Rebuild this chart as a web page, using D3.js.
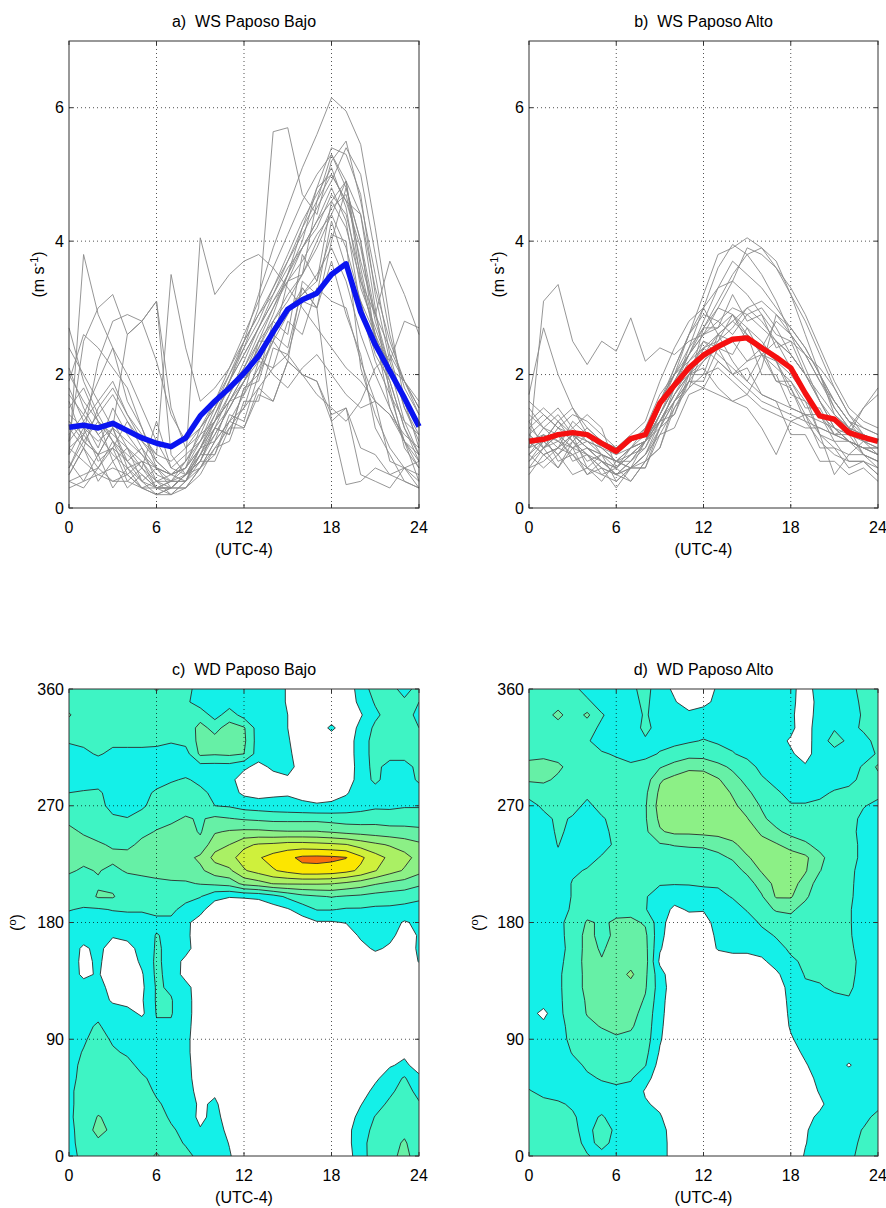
<!DOCTYPE html>
<html>
<head>
<meta charset="utf-8">
<script src="https://cdn.jsdelivr.net/npm/d3@7"></script>
<style>
  body { margin: 0; background: #fff; }
  svg text { font-family: "Liberation Sans", Arial, Helvetica, sans-serif; fill: #000; }
</style>
</head>
<body>
<svg id="fig" width="886" height="1208"></svg>
<script>
// ---------- axes ----------
const hours = [0,1,2,3,4,5,6,7,8,9,10,11,12,13,14,15,16,17,18,19,20,21,22,23,24];
const directions = [360,350,340,330,320,310,300,290,280,270,260,250,240,230,220,210,200,190,180,170,160,150,140,130,120,110,100,90,80,70,60,50,40,30,20,10,0];
const hourTicks = [0,6,12,18,24];
const speedTicks = [0,2,4,6];
const dirTicks = [0,90,180,270,360];
const contourLevels = [1,2,3,4,5,6,7,8];

// ---------- wind speed, Paposo Bajo (m/s), hourly ----------
const wsBajoMean = [1.21,1.24,1.2,1.27,1.16,1.05,0.97,0.92,1.05,1.38,1.6,1.8,2.02,2.28,2.64,2.98,3.12,3.22,3.5,3.66,2.94,2.45,2.05,1.65,1.22];
const wsBajoDays = [
  [0.8,3.8,2.9,2.4,1.6,1.2,0.6,0.4,0.6,1.2,1.6,2.1,2.6,3.1,3.6,4.1,4.6,5.0,5.3,4.9,3.6,2.6,1.9,1.2,0.8],
  [2.7,1.9,1.4,1.0,0.7,0.5,0.3,0.3,0.5,0.9,1.4,1.9,2.5,3.2,3.9,4.5,5.1,5.6,6.15,5.95,5.45,4.2,2.8,1.6,0.9],
  [1.0,2.5,3.0,3.2,2.6,2.8,3.1,1.5,0.9,1.1,1.3,1.6,2.0,2.5,3.0,3.4,3.9,4.3,4.8,4.3,3.0,2.2,1.7,1.3,1.1],
  [0.5,0.9,0.4,0.7,0.3,0.5,0.3,0.3,0.5,0.7,1.2,1.1,1.8,2.0,2.8,2.6,3.8,3.4,4.6,4.9,3.4,2.6,1.5,1.0,0.4],
  [1.6,1.0,1.3,0.7,0.9,0.4,0.6,0.3,0.3,0.6,0.8,1.4,1.3,2.0,2.5,2.2,3.4,3.2,4.3,3.6,3.1,2.3,1.9,1.2,0.7],
  [2.1,1.5,1.1,1.3,0.9,0.6,0.4,0.4,0.7,4.05,3.2,3.5,3.7,3.8,3.6,3.3,3.0,2.7,2.4,2.1,1.9,1.6,1.4,1.1,0.9],
  [1.3,1.1,2.2,2.8,2.9,2.8,3.1,0.8,0.5,0.7,1.1,1.5,1.9,2.3,2.7,3.0,3.2,3.5,3.9,3.4,2.6,2.0,1.5,1.0,0.8],
  [0.4,0.5,0.6,0.9,0.7,0.4,0.2,0.2,0.4,0.8,1.3,1.9,2.4,3.0,5.64,5.7,4.7,4.4,5.2,5.5,4.6,3.5,2.3,1.5,1.0],
  [1.9,2.6,2.4,2.1,1.8,1.2,0.7,0.5,0.6,1.0,1.5,2.0,2.4,2.8,3.3,3.8,4.3,4.7,5.1,4.5,3.3,2.7,2.1,1.6,1.3],
  [0.9,0.7,0.5,0.4,0.4,0.3,0.3,0.2,0.3,0.6,1.0,1.3,1.7,2.1,2.5,2.9,3.3,3.0,1.3,0.35,0.4,0.6,0.5,0.4,0.3],
  [1.2,0.9,1.5,1.8,1.4,1.0,0.8,3.5,2.4,1.6,1.8,2.1,2.5,2.9,3.3,3.7,4.1,4.5,4.9,5.4,5.0,3.8,2.6,1.8,1.4],
  [0.6,1.1,0.8,1.2,0.6,0.7,0.4,0.3,0.5,0.7,1.2,1.1,1.8,1.9,2.6,2.4,3.3,3.0,4.0,4.8,4.0,2.9,2.1,1.3,0.8],
  [2.0,1.6,1.3,1.1,0.9,0.7,0.6,0.5,0.7,1.1,1.6,2.0,2.5,2.9,3.2,3.6,3.9,4.3,4.6,4.2,3.4,2.9,2.4,1.9,1.5],
  [0.3,0.4,0.5,0.6,0.5,0.3,0.2,0.3,0.5,0.6,0.9,1.2,1.5,1.8,2.1,2.3,2.0,1.7,1.5,1.3,1.6,2.1,2.3,1.9,1.6],
  [1.5,1.8,1.3,1.0,0.8,0.6,1.3,0.6,0.5,0.8,1.2,1.7,2.1,2.6,3.0,3.5,4.0,4.8,5.4,5.3,4.7,3.2,2.2,1.5,1.1],
  [0.7,0.4,0.8,0.3,0.6,0.3,0.4,0.2,0.4,0.6,1.0,1.3,1.5,2.2,2.1,2.8,2.6,3.3,3.1,3.0,2.2,1.6,0.7,0.6,0.4],
  [1.1,1.4,1.9,2.4,2.0,1.5,1.0,0.6,0.8,1.0,1.4,1.8,2.1,2.5,2.8,3.2,3.5,3.9,4.4,4.9,4.4,3.3,2.5,1.9,1.5],
  [1.8,1.3,0.9,1.5,1.1,0.8,0.5,0.4,0.5,0.8,1.1,1.5,1.9,2.4,2.9,3.5,4.2,4.8,5.0,4.6,3.9,2.8,2.1,1.6,1.2],
  [0.5,0.9,0.6,1.0,0.5,0.7,0.3,0.4,0.4,0.8,0.8,1.3,1.2,1.8,1.6,2.2,2.0,1.9,1.4,1.5,0.9,0.8,0.5,0.6,0.3],
  [1.3,1.0,0.8,0.9,1.3,0.9,0.6,0.5,0.7,1.0,1.3,1.6,2.0,2.4,2.8,3.1,3.5,4.0,4.5,4.7,3.7,2.9,3.7,3.2,2.6],
  [2.4,2.0,1.6,1.9,1.4,1.1,0.8,0.7,0.9,1.2,1.5,1.9,2.3,2.7,3.1,3.4,3.7,4.1,4.4,3.9,3.1,2.6,2.1,1.9,1.4],
  [0.8,1.2,0.7,0.9,0.4,0.6,0.3,0.4,0.4,0.9,1.0,1.6,1.7,2.5,2.5,3.4,3.5,4.6,5.3,4.8,4.0,2.5,1.8,0.9,0.6],
  [1.7,1.4,1.1,0.8,0.6,0.4,0.3,0.3,0.5,0.9,1.2,1.5,1.9,2.3,2.0,1.8,2.1,2.3,2.0,1.7,1.5,1.6,1.4,1.0,0.7],
  [0.9,1.1,1.4,1.7,1.3,1.0,0.7,0.5,0.6,0.9,1.3,1.6,1.9,2.2,2.6,3.0,3.2,3.4,4.1,4.0,2.1,1.4,0.9,0.6,0.5],
  [0.4,0.3,0.6,0.4,0.5,0.3,0.2,0.3,0.3,0.5,0.9,1.0,1.6,1.6,2.4,2.3,3.1,3.0,3.7,2.9,2.3,1.2,0.8,0.4,0.3],
  [1.4,1.2,1.0,1.2,2.6,2.8,2.2,1.4,1.0,1.2,1.5,1.9,2.3,2.7,3.1,3.5,3.9,4.2,4.7,4.4,3.5,2.5,2.2,2.8,2.7],
  [0.6,1.0,0.8,1.2,0.7,0.9,0.4,0.5,0.4,0.7,0.7,1.2,1.2,1.7,1.6,2.2,2.0,1.9,1.3,1.5,0.5,0.4,0.3,0.6,0.7],
  [1.0,1.3,1.6,1.2,1.0,0.8,0.6,0.5,0.6,0.9,1.3,1.7,2.2,2.7,3.2,3.7,4.2,4.6,5.0,4.6,4.4,3.0,1.7,1.0,0.6]
];

// ---------- wind speed, Paposo Alto (m/s), hourly ----------
const wsAltoMean = [1.0,1.03,1.1,1.13,1.1,0.97,0.85,1.04,1.1,1.57,1.84,2.1,2.29,2.42,2.53,2.55,2.4,2.26,2.1,1.72,1.38,1.33,1.13,1.06,1.0];
const wsAltoDays = [
  [0.9,3.1,3.35,2.5,2.15,2.5,2.35,2.85,2.2,2.4,2.3,2.5,2.6,2.7,2.9,2.6,2.3,2.1,1.9,1.6,1.4,1.2,1.0,0.9,0.8],
  [1.7,2.7,2.0,1.5,1.1,0.9,0.7,0.9,1.0,1.4,1.8,2.4,3.0,3.6,3.95,3.8,3.5,3.1,2.6,2.1,1.6,1.2,1.0,0.9,0.8],
  [1.0,0.8,0.9,1.1,0.9,0.7,0.6,0.8,1.0,1.5,2.0,2.6,3.2,3.8,3.9,4.05,3.9,3.7,3.2,2.6,2.0,1.5,1.2,1.1,1.0],
  [1.2,1.0,1.3,1.5,1.2,1.0,0.8,0.9,1.1,1.6,2.0,2.3,2.6,2.8,3.0,2.9,2.7,2.5,2.3,2.0,1.7,1.4,1.2,1.1,1.0],
  [0.6,0.9,0.6,0.9,0.5,0.6,0.3,0.6,0.6,1.2,1.4,2.0,2.0,2.6,2.5,2.6,2.0,2.0,1.5,1.4,0.9,0.9,0.6,0.7,0.5],
  [0.9,1.1,1.0,0.8,0.6,0.5,0.4,0.6,0.8,1.3,1.7,2.0,2.2,2.4,2.0,1.8,1.6,1.5,1.4,1.3,1.2,1.1,1.0,0.9,0.9],
  [1.4,1.2,1.0,0.9,0.8,0.7,0.6,0.8,1.0,1.5,1.9,2.3,2.8,3.3,3.7,3.5,3.3,3.0,2.7,2.4,2.0,1.6,1.3,1.1,1.0],
  [0.8,1.1,0.7,0.8,0.5,0.7,0.5,0.4,0.7,0.9,1.6,1.9,2.7,2.7,3.2,2.8,2.9,2.4,2.5,2.0,2.0,1.4,1.2,0.8,0.6],
  [1.1,1.3,1.5,1.2,1.0,0.9,0.8,1.0,1.2,1.7,2.0,2.2,2.4,2.2,2.0,2.2,2.4,2.8,2.6,2.3,1.9,1.6,1.3,1.2,1.1],
  [0.7,0.9,1.2,1.0,0.8,0.6,0.5,0.7,0.9,1.4,1.8,2.3,2.7,3.0,2.9,2.7,2.5,2.2,1.8,1.3,1.0,0.8,0.7,0.7,0.6],
  [1.0,0.8,0.9,1.3,1.1,0.8,0.7,0.7,1.0,1.6,2.1,2.6,2.9,2.8,2.6,2.9,3.0,2.7,2.3,2.0,1.6,1.2,1.0,0.9,0.8],
  [1.3,1.5,1.3,1.0,1.2,1.0,0.9,1.1,1.3,1.9,2.4,2.8,3.0,2.6,2.2,1.9,1.7,1.6,1.5,1.4,1.3,1.2,1.1,1.0,1.0],
  [0.5,0.8,0.6,1.0,0.7,0.8,0.6,0.8,0.9,1.3,1.4,1.9,1.9,2.4,2.3,2.7,2.3,2.2,1.7,1.6,1.1,1.0,0.7,0.7,0.5],
  [1.5,1.2,1.4,1.1,0.9,0.8,0.7,0.8,1.0,1.4,1.9,2.3,2.6,3.0,3.4,3.9,3.8,3.6,3.3,2.9,2.4,1.9,1.5,1.3,1.2],
  [0.9,1.0,0.8,1.0,0.8,0.6,0.5,0.6,0.8,1.2,1.6,2.0,2.1,1.8,1.6,1.5,1.2,0.8,1.3,1.4,1.1,0.9,0.8,0.8,0.7],
  [1.1,0.9,1.1,0.9,1.0,0.9,0.7,0.9,1.0,1.3,1.7,2.0,2.3,2.6,2.8,2.6,2.4,2.2,2.0,1.7,1.4,1.1,1.2,1.5,1.7],
  [0.8,0.6,0.8,0.5,0.6,0.4,0.7,0.6,1.0,1.2,1.8,2.0,2.5,2.4,2.5,2.2,2.3,1.9,1.9,1.5,1.5,1.1,1.1,0.8,0.7],
  [1.2,1.4,1.2,1.4,1.3,1.1,0.9,1.0,1.1,1.5,2.1,2.6,3.0,3.3,3.4,3.2,2.9,2.6,2.5,2.3,2.1,1.8,1.4,1.2,1.1],
  [0.7,1.0,0.8,1.1,0.6,0.8,0.4,0.6,0.6,1.1,1.2,1.7,1.8,2.2,2.0,2.1,1.7,1.6,1.1,1.1,0.7,0.7,0.5,0.6,0.4],
  [1.0,1.1,0.9,0.8,0.9,0.8,0.7,0.6,0.8,1.1,1.5,1.9,2.2,2.5,2.7,3.0,2.8,2.5,2.1,1.7,1.1,0.5,0.8,1.0,0.9],
  [0.6,0.7,0.9,1.1,0.9,0.7,0.5,0.6,0.7,1.2,1.6,1.9,1.8,1.7,1.6,1.7,2.1,2.9,2.7,2.4,2.0,1.6,1.3,1.0,0.8],
  [1.3,0.9,1.1,0.7,0.8,0.5,0.6,0.4,0.7,0.9,1.5,1.8,2.4,2.5,2.9,2.5,2.4,1.9,1.8,1.4,1.4,1.0,1.0,0.8,0.7],
  [0.9,1.2,1.1,0.9,1.1,1.0,0.9,1.0,1.1,1.3,1.6,1.8,2.0,2.1,1.9,1.7,1.5,1.4,1.3,1.2,1.2,1.1,1.0,0.9,0.9],
  [1.1,0.9,1.0,1.2,1.4,1.2,0.6,0.9,1.2,1.6,2.0,2.4,2.7,3.1,3.5,3.8,3.9,3.6,3.2,2.8,2.3,1.8,1.4,1.1,1.0],
  [0.8,1.0,1.3,1.1,0.9,0.7,0.5,0.7,1.0,1.4,1.8,2.2,2.5,2.3,2.1,1.9,2.3,2.5,2.3,2.0,1.6,1.3,1.1,1.5,1.8],
  [1.6,1.4,1.2,1.1,1.0,0.8,0.7,0.9,1.0,1.3,1.7,2.1,2.4,2.6,2.8,3.0,3.1,2.9,2.6,2.3,1.9,1.5,1.2,1.0,0.9]
];

// ---------- wind direction frequency, Paposo Bajo (rows: 360 down to 0 deg, cols: 0..24 h) ----------
const wdBajoFreq = [
  [2.4,2.4,2.4,2.4,2.4,2.4,3.1,2.4,2.4,1.5,1.5,1.5,1.5,1.5,1.5,0.9,0.3,0.3,0.3,0.3,1.5,2.4,2.4,1.6,2.4],
  [2.5,2.4,2.4,2.4,2.4,2.4,2.4,2.4,2.2,1.5,1.5,1.5,1.5,1.5,1.5,0.9,0.3,0.3,0.3,0.3,1.3,2.1,2.4,2.2,2.0],
  [3.1,2.4,2.4,2.4,2.4,2.4,2.4,2.4,2.3,2.6,1.6,2.5,1.6,1.5,1.5,1.0,0.3,0.3,0.3,0.3,0.9,1.8,2.4,2.3,1.8],
  [2.5,2.4,2.4,2.4,2.4,2.4,2.4,2.4,2.4,3.3,2.7,3.4,3.1,1.5,1.5,1.0,0.3,0.3,1.25,0.3,1.3,2.2,2.4,2.4,2.0],
  [2.1,2.2,2.0,2.2,2.3,2.3,2.3,2.1,2.3,3.3,3.3,3.4,3.2,1.5,1.5,1.1,0.4,0.3,0.3,0.3,1.6,2.3,2.4,2.3,2.2],
  [1.6,1.8,2.1,1.8,1.7,1.7,1.6,1.5,1.6,3.2,3.1,3.2,3.0,1.5,1.5,1.2,0.5,0.3,0.3,0.3,1.6,2.3,2.4,2.4,2.2],
  [1.5,1.5,1.5,1.5,1.5,1.5,1.5,1.5,1.5,1.6,1.6,1.6,1.2,0.7,1.2,1.4,0.5,0.3,0.3,0.3,1.5,2.3,1.6,1.6,2.3],
  [1.5,1.5,1.5,1.5,1.5,1.5,1.5,1.9,2.1,1.8,1.5,1.3,0.5,0.4,0.6,0.8,0.4,0.3,0.3,0.4,1.5,2.2,1.6,1.7,2.1],
  [2.0,2.1,2.2,1.5,1.3,1.6,2.2,2.4,2.5,2.2,1.8,1.4,0.8,0.6,0.8,0.9,0.7,0.6,0.6,0.9,1.5,1.6,1.6,1.6,1.7],
  [2.4,2.5,2.4,1.6,1.5,1.8,2.5,2.5,2.6,2.3,2.0,1.9,1.6,1.5,1.4,1.3,1.2,1.1,1.2,1.4,1.6,1.8,1.8,1.9,1.9],
  [2.8,2.7,2.6,2.2,2.05,2.5,2.7,2.8,3.1,2.9,3.2,3.05,2.9,2.8,2.7,2.7,2.7,2.7,2.6,2.5,2.5,2.6,2.5,2.6,2.6],
  [3.2,2.9,2.7,2.6,2.5,2.8,3.05,3.3,3.4,2.9,3.9,4.1,4.2,4.2,4.1,4.05,4.05,4.05,3.9,3.7,3.6,3.5,3.4,3.3,3.2],
  [3.4,3.3,3.1,2.9,2.8,3.2,3.3,3.5,3.6,3.3,4.6,5.0,5.8,6.1,6.2,6.4,6.4,6.3,6.2,6.05,5.6,5.2,4.9,4.6,4.2],
  [3.3,3.2,3.2,3.2,3.3,3.4,3.5,3.6,3.7,4.2,5.3,5.7,6.4,6.9,7.4,7.8,8.2,8.25,8.2,8.05,7.2,6.4,5.8,5.3,4.7],
  [3.1,2.9,3.05,2.8,3.1,3.2,3.3,3.3,3.4,3.8,4.5,4.8,5.9,6.4,6.9,7.3,7.7,7.7,7.6,7.3,6.8,6.05,5.4,4.9,4.3],
  [2.7,2.6,2.9,2.7,2.6,2.7,2.8,2.9,2.9,3.05,3.2,3.4,4.3,4.6,5.05,5.1,5.1,5.1,5.05,4.8,4.5,4.1,3.8,3.6,3.2],
  [2.4,2.5,3.1,3.1,2.4,2.5,2.6,2.6,2.3,2.05,1.3,1.05,1.1,1.2,1.6,2.2,2.7,2.9,3.05,2.9,2.8,2.6,2.5,2.4,2.2],
  [2.05,1.9,1.9,2.05,2.1,2.1,2.2,2.2,1.7,1.3,0.4,0.3,0.3,0.3,0.6,0.9,1.5,2.05,2.05,1.9,1.9,1.8,1.8,1.7,1.6],
  [1.6,1.5,1.4,1.5,1.6,1.6,1.8,1.8,1.2,0.6,0.3,0.3,0.3,0.3,0.3,0.5,0.5,0.9,0.9,1.05,1.3,1.5,1.4,0.9,1.2],
  [1.6,1.5,1.2,1.1,1.3,1.5,2.05,1.8,1.3,0.3,0.3,0.3,0.3,0.3,0.3,0.3,0.3,0.3,0.3,0.3,1.2,1.4,1.3,0.5,1.1],
  [1.6,0.8,1.3,0.5,0.6,1.4,2.1,1.8,1.4,0.3,0.3,0.3,0.3,0.3,0.3,0.3,0.3,0.3,0.3,0.3,0.6,1.2,0.8,0.3,1.2],
  [1.6,0.7,1.2,0.4,0.4,1.2,2.2,1.6,0.7,0.3,0.3,0.3,0.3,0.3,0.3,0.3,0.3,0.3,0.3,0.3,0.3,0.3,0.3,0.3,1.05],
  [1.5,0.8,1.1,0.4,0.3,0.9,2.2,1.7,0.6,0.3,0.3,0.3,0.3,0.3,0.3,0.3,0.3,0.3,0.3,0.3,0.3,0.3,0.3,0.3,0.5],
  [1.3,1.4,1.5,0.5,0.4,0.8,2.1,1.9,1.4,0.3,0.3,0.3,0.3,0.3,0.3,0.3,0.3,0.3,0.3,0.3,0.3,0.3,0.3,0.3,0.3],
  [1.5,1.6,1.7,0.8,0.6,0.9,2.1,2.05,1.5,0.3,0.3,0.3,0.3,0.3,0.3,0.3,0.3,0.3,0.3,0.3,0.3,0.3,0.3,0.3,0.3],
  [1.6,1.8,1.9,1.7,1.4,0.8,2.05,2.05,1.5,0.3,0.3,0.3,0.3,0.3,0.3,0.3,0.3,0.3,0.3,0.3,0.3,0.3,0.3,0.3,0.3],
  [1.6,1.9,2.05,1.8,1.6,1.6,1.9,1.9,1.4,0.3,0.3,0.3,0.3,0.3,0.3,0.3,0.3,0.3,0.3,0.3,0.3,0.3,0.3,0.3,0.3],
  [1.7,1.9,2.3,1.9,1.7,1.7,1.8,1.8,1.3,0.3,0.3,0.3,0.3,0.3,0.3,0.3,0.3,0.3,0.3,0.3,0.3,0.3,0.3,0.3,0.3],
  [1.7,2.05,2.5,2.1,1.9,1.7,1.7,1.7,1.3,0.3,0.3,0.3,0.3,0.3,0.3,0.3,0.3,0.3,0.3,0.3,0.3,0.3,0.5,0.8,0.3],
  [1.7,2.2,2.6,2.4,2.2,1.8,1.7,1.7,1.4,0.3,0.3,0.3,0.3,0.3,0.3,0.3,0.3,0.3,0.3,0.3,0.3,0.3,0.9,1.2,0.6],
  [1.7,2.3,2.6,2.6,2.5,2.1,1.8,1.7,1.5,0.3,0.3,0.3,0.3,0.3,0.3,0.3,0.3,0.3,0.3,0.3,0.3,0.8,1.5,2.1,1.2],
  [1.8,2.4,2.7,2.7,2.6,2.3,1.9,1.7,1.6,0.5,0.8,0.3,0.3,0.3,0.3,0.3,0.3,0.3,0.3,0.3,0.5,1.3,1.8,2.4,1.7],
  [1.8,2.4,2.7,2.8,2.8,2.4,2.1,1.8,1.6,0.8,1.2,0.3,0.3,0.3,0.3,0.3,0.3,0.3,0.3,0.3,0.95,1.6,2.2,2.5,2.1],
  [1.8,2.5,3.05,2.8,2.8,2.7,2.3,1.9,1.7,0.7,1.4,0.4,0.3,0.3,0.3,0.3,0.3,0.3,0.3,0.5,1.3,2.05,2.5,2.6,2.3],
  [1.7,2.5,3.3,2.8,2.8,2.7,2.6,2.1,1.8,1.1,1.5,0.7,0.3,0.3,0.3,0.3,0.3,0.3,0.3,0.7,1.5,2.3,2.6,2.8,2.4],
  [1.7,2.4,2.8,2.7,2.7,2.7,2.7,2.4,1.9,1.6,1.6,0.95,0.3,0.3,0.3,0.3,0.3,0.3,0.3,0.6,1.7,2.4,2.7,3.1,2.5],
  [1.6,2.3,2.6,2.6,2.6,2.6,3.1,2.6,2.3,1.7,1.6,1.1,0.3,0.3,0.3,0.3,0.3,0.3,0.3,0.5,1.6,2.5,2.7,3.3,2.5]
];

// ---------- wind direction frequency, Paposo Alto (rows: 360 down to 0 deg, cols: 0..24 h) ----------
const wdAltoFreq = [
  [2.4,2.4,2.4,2.3,1.6,1.5,1.5,1.8,2.3,1.5,0.8,0.3,0.3,1.2,1.5,1.5,1.5,1.5,1.3,0.5,1.5,1.6,1.8,2.2,2.4],
  [2.4,2.4,2.5,2.4,2.2,1.5,1.5,1.7,2.2,1.5,1.1,0.4,0.7,1.3,1.5,1.5,1.5,1.5,1.3,0.4,1.4,1.6,1.8,2.1,2.3],
  [2.4,2.5,3.3,2.4,3.2,2.1,1.5,1.6,2.1,1.6,1.4,1.3,1.5,1.6,1.6,1.6,1.5,1.4,1.2,0.4,1.5,1.7,1.8,2.05,2.2],
  [2.4,2.4,2.5,2.4,2.4,1.8,1.5,1.6,2.2,1.7,1.6,1.6,1.7,1.7,1.7,1.6,1.5,1.4,1.2,0.5,1.6,1.9,1.9,2.05,2.2],
  [2.3,2.3,2.4,2.3,2.1,1.6,1.6,1.7,1.9,1.8,1.8,1.9,2.05,1.9,1.8,1.6,1.5,1.3,0.9,0.6,1.5,2.4,1.8,1.9,2.1],
  [2.6,2.7,2.6,2.3,2.2,2.1,1.9,1.6,1.8,2.05,2.3,2.6,2.6,2.3,2.05,1.8,1.5,1.3,1.1,0.7,1.4,1.6,1.7,1.8,2.05],
  [3.4,3.5,3.2,2.6,2.4,2.3,2.3,2.2,2.3,2.9,3.4,3.8,3.7,3.3,2.8,2.3,1.8,1.6,1.4,1.1,1.5,1.7,1.8,2.05,3.2],
  [3.1,3.2,2.8,2.5,2.4,2.4,2.4,2.3,2.5,3.9,4.3,4.5,4.6,4.1,3.4,2.7,2.1,1.8,1.6,1.6,1.7,1.8,1.9,2.1,2.6],
  [2.4,2.4,2.3,2.3,2.2,2.3,2.4,2.5,2.8,4.2,4.5,4.6,4.6,4.5,3.9,3.2,2.5,2.1,1.8,1.8,1.9,2.05,2.1,2.1,2.2],
  [1.6,2.2,2.2,2.3,1.8,2.3,2.4,2.5,2.9,4.4,4.6,4.7,4.7,4.6,4.2,3.6,2.9,2.4,2.05,2.05,2.1,2.2,2.2,2.05,1.8],
  [1.5,1.7,2.2,1.9,1.6,1.9,2.3,2.5,2.9,4.2,4.5,4.6,4.6,4.6,4.4,4.05,3.2,2.6,2.2,2.1,2.2,2.3,2.3,1.8,1.5],
  [1.4,1.4,2.2,1.7,1.5,1.8,2.2,2.4,2.8,3.9,4.2,4.2,4.3,4.4,4.5,4.3,3.9,3.2,2.7,2.4,2.3,2.4,2.3,1.7,1.4],
  [1.5,1.3,2.05,1.4,1.5,1.8,2.1,2.3,2.6,2.9,3.05,3.1,3.1,3.3,3.8,4.4,4.2,4.1,3.6,3.2,2.6,2.3,2.3,1.8,1.4],
  [1.6,1.3,1.8,1.7,1.8,2.05,2.2,2.3,2.4,2.4,2.5,2.6,2.7,2.8,3.1,3.9,4.4,4.5,4.5,4.2,3.3,2.4,2.3,1.8,1.3],
  [1.5,1.3,1.7,1.9,2.05,2.2,2.3,2.3,2.3,2.2,2.3,2.3,2.4,2.4,2.6,3.2,4.1,4.4,4.5,4.1,3.05,2.3,2.2,1.7,1.3],
  [1.4,1.3,1.6,2.05,2.3,2.4,2.4,2.4,2.1,2.05,2.05,2.05,2.1,2.1,2.3,2.6,3.4,4.3,4.4,3.6,2.5,2.2,2.2,1.6,1.3],
  [1.4,1.4,1.6,2.05,2.4,2.5,2.5,2.5,2.05,1.7,1.4,1.6,1.7,1.8,2.05,2.3,2.9,4.1,4.1,3.2,2.3,2.2,2.2,1.5,1.3],
  [1.5,1.4,1.7,2.1,2.6,2.9,2.8,2.7,2.05,1.5,0.8,1.1,1.05,1.5,1.7,2.05,2.6,3.1,3.2,2.6,2.2,2.2,2.1,1.5,1.3],
  [1.5,1.5,1.8,2.3,3.1,2.9,3.1,3.2,2.9,1.4,0.4,0.6,0.7,1.3,1.4,1.7,2.1,2.4,2.6,2.3,2.1,2.2,2.1,1.5,1.4],
  [1.5,1.4,1.7,2.4,3.3,2.7,3.2,3.4,3.2,1.3,0.3,0.3,0.5,1.2,1.5,1.6,1.8,2.05,2.2,2.2,2.2,2.2,2.1,1.6,1.4],
  [1.5,1.4,1.6,2.4,3.3,2.9,3.3,3.5,3.3,1.1,0.3,0.3,0.3,1.1,1.3,1.3,1.4,1.8,2.1,2.2,2.2,2.1,2.2,1.6,1.4],
  [1.6,1.4,1.7,2.5,3.3,3.05,3.4,3.6,3.4,0.8,0.3,0.3,0.3,0.4,0.5,0.5,0.8,1.4,1.9,2.1,2.1,2.3,2.3,1.7,1.4],
  [1.6,1.3,1.8,2.6,3.2,3.3,3.5,4.2,3.2,1.4,0.3,0.3,0.3,0.3,0.3,0.3,0.3,0.8,1.6,2.05,2.2,2.4,2.3,1.6,1.3],
  [1.5,1.4,1.8,2.6,3.2,3.4,3.5,3.6,3.1,1.5,0.4,0.3,0.3,0.3,0.3,0.3,0.3,0.4,1.4,1.9,1.9,2.2,2.2,1.5,1.3],
  [1.5,1.5,1.8,2.5,3.1,3.4,3.5,3.5,2.9,1.4,0.3,0.3,0.3,0.3,0.3,0.3,0.3,0.3,1.3,1.7,1.6,1.7,1.9,1.8,1.3],
  [1.4,0.7,1.8,2.4,3.05,3.3,3.4,3.3,2.7,1.3,0.3,0.3,0.3,0.3,0.3,0.3,0.3,0.3,1.2,1.6,1.5,1.5,1.5,1.5,1.4],
  [1.5,1.3,1.7,2.3,2.8,3.05,3.2,3.1,2.6,1.2,0.3,0.3,0.3,0.3,0.3,0.3,0.3,0.3,1.1,1.5,1.5,1.5,1.5,1.5,1.5],
  [1.5,1.4,1.7,2.2,2.5,2.7,2.9,2.8,2.5,1.1,0.3,0.3,0.3,0.3,0.3,0.3,0.3,0.3,0.9,1.4,1.5,1.5,1.5,1.5,1.5],
  [1.5,1.5,1.6,2.05,2.3,2.4,2.6,2.5,2.3,0.9,0.3,0.3,0.3,0.3,0.3,0.3,0.3,0.3,0.6,1.2,1.5,1.5,1.5,1.5,1.5],
  [1.6,1.5,1.6,1.8,2.1,2.2,2.3,2.3,2.05,0.6,0.3,0.3,0.3,0.3,0.3,0.3,0.3,0.3,0.4,0.9,1.5,1.5,0.9,1.5,1.5],
  [1.7,1.6,1.6,1.7,1.9,2.05,2.1,2.1,1.4,0.4,0.3,0.3,0.3,0.3,0.3,0.3,0.3,0.3,0.3,0.6,1.3,1.5,1.6,1.6,1.6],
  [2.05,1.8,1.7,1.6,1.7,1.8,1.9,1.7,0.9,0.5,0.3,0.3,0.3,0.3,0.3,0.3,0.3,0.3,0.3,0.4,1.1,1.5,1.6,1.6,1.7],
  [2.2,2.2,2.1,1.9,1.6,1.6,1.7,1.4,1.1,0.8,0.3,0.3,0.3,0.3,0.3,0.3,0.3,0.3,0.3,0.4,0.8,1.5,1.6,1.7,1.8],
  [2.4,2.4,2.3,2.1,1.7,2.1,1.6,1.5,1.5,1.1,0.4,0.3,0.3,0.3,0.3,0.3,0.3,0.3,0.3,0.7,1.2,1.5,1.6,1.8,2.2],
  [2.5,2.5,2.4,2.2,1.7,2.5,1.8,1.6,1.6,1.4,0.5,0.3,0.3,0.3,0.3,0.3,0.3,0.3,0.3,0.9,1.4,1.5,1.7,2.05,2.4],
  [2.6,2.5,2.4,2.3,1.8,2.2,1.8,1.6,1.6,1.5,0.5,0.3,0.3,0.3,0.3,0.3,0.3,0.3,0.3,0.95,1.5,1.6,1.7,2.2,2.5],
  [2.6,2.5,2.4,2.3,2.05,1.8,1.7,1.6,1.6,1.5,0.5,0.3,0.3,0.3,0.3,0.3,0.3,0.3,0.3,1.1,1.6,1.6,1.8,2.3,2.5]
];

// ---------- styling ----------
const bandColors = ['#14f0e8','#3ef4c4','#66f0a6','#8cf086','#aaf064','#cff03c','#fce600','#f86e0c'];
const boxes = {
  a: {x0: 69, x1: 419, y0: 41, y1: 508},
  b: {x0: 529, x1: 878, y0: 41, y1: 508},
  c: {x0: 69, x1: 419, y0: 689, y1: 1156},
  d: {x0: 529, x1: 878, y0: 689, y1: 1156}
};
const FS = 16;
const svg = d3.select('#fig');

function drawGrid(g, box, x, y, yTicks, yMax) {
  const grid = g.append('g').attr('stroke', '#000').attr('stroke-width', 0.8)
    .attr('stroke-dasharray', '1,3').attr('opacity', 0.85);
  hourTicks.filter(t => t > 0 && t < 24).forEach(t => {
    grid.append('line').attr('x1', x(t)).attr('x2', x(t)).attr('y1', box.y0).attr('y2', box.y1);
  });
  yTicks.filter(t => t > 0 && t < yMax).forEach(t => {
    grid.append('line').attr('x1', box.x0).attr('x2', box.x1).attr('y1', y(t)).attr('y2', y(t));
  });
}

function drawFrame(g, box, x, y, yTicks, title) {
  g.append('rect').attr('x', box.x0).attr('y', box.y0)
    .attr('width', box.x1 - box.x0).attr('height', box.y1 - box.y0)
    .attr('fill', 'none').attr('stroke', '#333').attr('stroke-width', 1);
  const tk = g.append('g').attr('stroke', '#333').attr('stroke-width', 1);
  hourTicks.forEach(t => {
    tk.append('line').attr('x1', x(t)).attr('x2', x(t)).attr('y1', box.y1).attr('y2', box.y1 - 4);
    tk.append('line').attr('x1', x(t)).attr('x2', x(t)).attr('y1', box.y0).attr('y2', box.y0 + 4);
  });
  yTicks.forEach(t => {
    tk.append('line').attr('x1', box.x0).attr('x2', box.x0 + 4).attr('y1', y(t)).attr('y2', y(t));
    tk.append('line').attr('x1', box.x1).attr('x2', box.x1 - 4).attr('y1', y(t)).attr('y2', y(t));
  });
  hourTicks.forEach(t => {
    g.append('text').attr('x', x(t)).attr('y', box.y1 + 25)
      .attr('text-anchor', 'middle').attr('font-size', FS).text(t);
  });
  yTicks.forEach(t => {
    g.append('text').attr('x', box.x0 - 5).attr('y', y(t)).attr('dy', '0.35em')
      .attr('text-anchor', 'end').attr('font-size', FS).text(t);
  });
  g.append('text').attr('x', (box.x0 + box.x1) / 2).attr('y', box.y1 + 47)
    .attr('text-anchor', 'middle').attr('font-size', FS).text('(UTC-4)');
  g.append('text').attr('x', (box.x0 + box.x1) / 2).attr('y', box.y0 - 14)
    .attr('text-anchor', 'middle').attr('font-size', FS).attr('xml:space', 'preserve').text(title);
}

function speedPanel(box, days, mean, color, title, labelX) {
  const g = svg.append('g');
  const x = d3.scaleLinear([0, 24], [box.x0, box.x1]);
  const y = d3.scaleLinear([0, 7], [box.y1, box.y0]);
  drawGrid(g, box, x, y, speedTicks, 7);
  const line = d3.line().x((d, i) => x(hours[i])).y(d => y(d));
  g.append('g').selectAll('path').data(days).join('path')
    .attr('d', line).attr('fill', 'none').attr('stroke', '#8a8a8a').attr('stroke-width', 0.9);
  g.append('path').attr('d', line(mean)).attr('fill', 'none')
    .attr('stroke', color).attr('stroke-width', 5.5).attr('stroke-linejoin', 'round');
  drawFrame(g, box, x, y, speedTicks, title);
  const lab = g.append('text').attr('transform', `translate(${labelX},${(box.y0 + box.y1) / 2}) rotate(-90)`)
    .attr('text-anchor', 'middle').attr('font-size', FS);
  lab.append('tspan').text('(m s');
  lab.append('tspan').attr('dy', -6).attr('font-size', 11).text('-1');
  lab.append('tspan').attr('dy', 6).text(')');
}

function directionPanel(box, freq, title, labelX, id) {
  const g = svg.append('g');
  const x = d3.scaleLinear([0, 24], [box.x0, box.x1]);
  const y = d3.scaleLinear([0, 360], [box.y1, box.y0]);
  const nx = hours.length, ny = directions.length;
  const hourAt = d3.scaleLinear([0.5, nx - 0.5], [hours[0], hours[nx - 1]]);
  const dirAt = d3.scaleLinear([0.5, ny - 0.5], [directions[0], directions[ny - 1]]);
  const proj = d3.geoTransform({
    point(px, py) { this.stream.point(x(hourAt(px)), y(dirAt(py))); }
  });
  const path = d3.geoPath(proj);
  const bands = d3.contours().size([nx, ny]).thresholds(contourLevels)(freq.flat());

  svg.append('clipPath').attr('id', id).append('rect')
    .attr('x', box.x0).attr('y', box.y0).attr('width', box.x1 - box.x0).attr('height', box.y1 - box.y0);
  const fills = g.append('g').attr('clip-path', `url(#${id})`);
  fills.append('rect').attr('x', box.x0).attr('y', box.y0)
    .attr('width', box.x1 - box.x0).attr('height', box.y1 - box.y0).attr('fill', '#fff');
  fills.selectAll('path.band').data(bands).join('path').attr('class', 'band')
    .attr('d', path).attr('fill', (d, i) => bandColors[i]).attr('stroke', 'none');
  fills.selectAll('path.iso').data(bands).join('path').attr('class', 'iso')
    .attr('d', path).attr('fill', 'none').attr('stroke', '#2b2b2b').attr('stroke-width', 0.9)
    .attr('stroke-linejoin', 'round');
  drawGrid(g, box, x, y, dirTicks, 360);
  drawFrame(g, box, x, y, dirTicks, title);
  const lab = g.append('text').attr('transform', `translate(${labelX},${(box.y0 + box.y1) / 2}) rotate(-90)`)
    .attr('text-anchor', 'middle').attr('font-size', FS);
  lab.append('tspan').text('(');
  lab.append('tspan').attr('dy', -6).attr('font-size', 11).text('o');
  lab.append('tspan').attr('dy', 6).text(')');
}

speedPanel(boxes.a, wsBajoDays, wsBajoMean, '#0a14f0', 'a)  WS Paposo Bajo', 43.6);
speedPanel(boxes.b, wsAltoDays, wsAltoMean, '#f51010', 'b)  WS Paposo Alto', 503.6);
directionPanel(boxes.c, wdBajoFreq, 'c)  WD Paposo Bajo', 21.6, 'clipC');
directionPanel(boxes.d, wdAltoFreq, 'd)  WD Paposo Alto', 483.6, 'clipD');
</script>
</body>
</html>
